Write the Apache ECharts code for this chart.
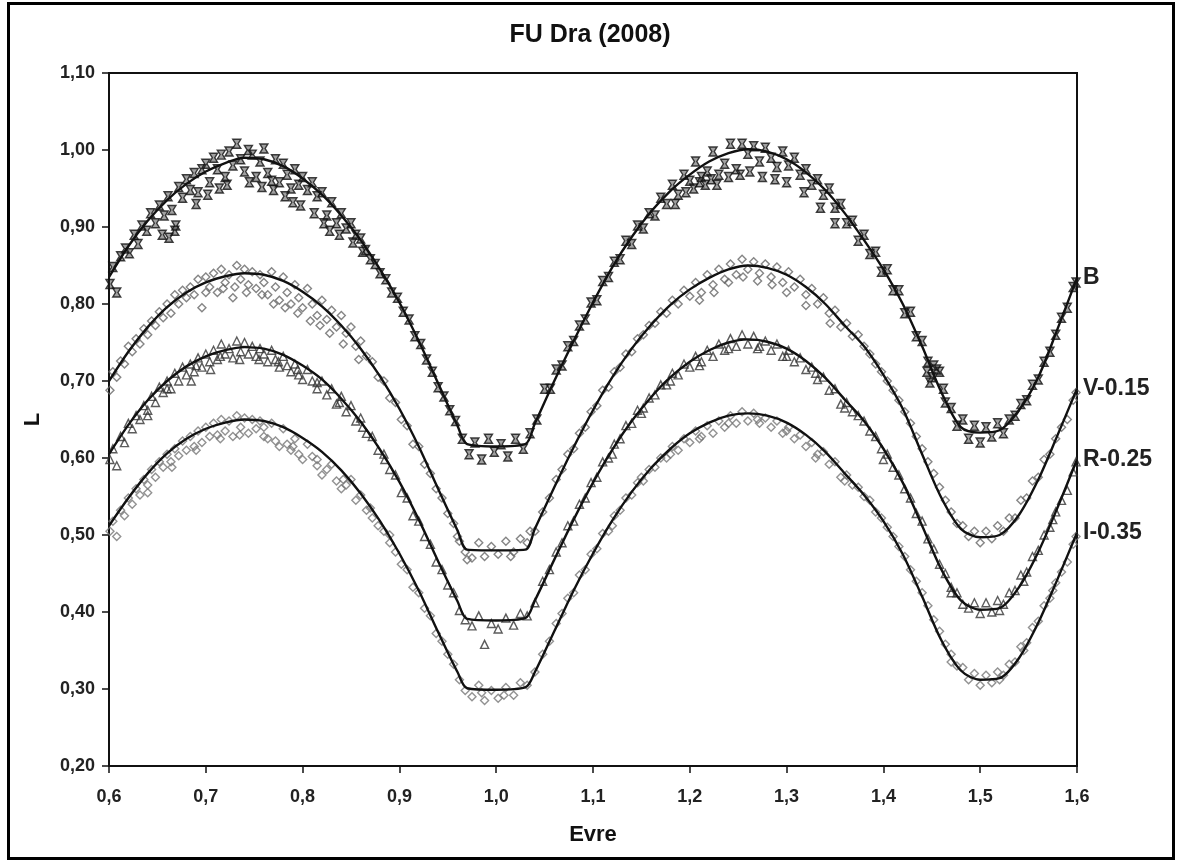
<!DOCTYPE html>
<html>
<head>
<meta charset="utf-8">
<script src="https://cdn.jsdelivr.net/npm/echarts@6/dist/echarts.min.js"></script>
<style>
	html, body { margin: 0; padding: 0; background: #fff; }
	#chart { width: 1180px; height: 862px; }
</style>
</head>
<body>
<div id="chart"></div>
<script>
// phase points of the fitted light curves
const phase = [0.60,0.62,0.64,0.66,0.68,0.70,0.72,0.74,0.76,0.78,0.80,0.82,0.84,0.86,0.88,0.90,0.92,0.94,0.96,
	0.97,1.00,1.03,1.04,
	1.06,1.08,1.10,1.12,1.14,1.16,1.18,1.20,1.22,1.24,1.26,1.28,1.30,1.32,1.34,1.36,1.38,1.40,1.42,1.44,1.46,1.48,1.50,1.52,1.54,1.56,1.58,1.60];

const bFit = [.835,.875,.908,.935,.956,.972,.983,.990,.988,.979,.963,.942,.915,.883,.845,.802,.752,.697,.642,
	.618,.615,.618,.645,
	.700,.752,.802,.848,.887,.920,.947,.968,.985,.996,1.001,.998,.988,.971,.948,.918,.883,.845,.800,.745,.685,.640,.633,.636,.662,.705,.768,.834];
const vFit = [.700,.738,.770,.796,.815,.828,.836,.840,.838,.830,.816,.797,.772,.742,.706,.664,.615,.560,.506,
	.481,.480,.481,.508,
	.562,.614,.662,.705,.742,.773,.799,.819,.834,.845,.850,.847,.838,.822,.800,.772,.745,.708,.664,.605,.548,.508,.497,.500,.526,.572,.630,.690];
const rFit = [.605,.643,.675,.700,.719,.732,.740,.744,.742,.734,.720,.702,.677,.647,.611,.569,.520,.466,.414,
	.391,.389,.392,.415,
	.468,.520,.568,.611,.648,.679,.705,.725,.740,.750,.754,.751,.742,.726,.704,.676,.648,.612,.568,.512,.455,.415,.403,.405,.432,.478,.536,.598];
const iFit = [.512,.548,.580,.606,.625,.638,.646,.650,.648,.640,.626,.608,.584,.554,.518,.476,.428,.374,.322,
	.301,.299,.302,.322,
	.375,.428,.476,.519,.556,.587,.612,.632,.646,.655,.658,.655,.646,.630,.608,.580,.552,.518,.475,.420,.363,.324,.312,.314,.340,.386,.443,.503];

// observations [phase, L]
const bObs = [[0.601,0.826],[0.604,0.848],[0.608,0.815],[0.612,0.862],[0.617,0.872],[0.621,0.866],[0.626,0.890],[0.630,0.878],[0.634,0.902],[0.639,0.895],[0.643,0.918],[0.648,0.905],[0.652,0.928],[0.657,0.915],[0.661,0.940],[0.665,0.922],[0.668,0.895],[0.672,0.952],[0.676,0.938],[0.680,0.962],[0.684,0.948],[0.688,0.970],[0.692,0.945],[0.696,0.975],[0.700,0.982],[0.704,0.958],[0.708,0.990],[0.712,0.975],[0.716,0.994],[0.720,0.965],[0.724,0.998],[0.728,0.980],[0.732,1.008],[0.736,0.988],[0.740,0.972],[0.744,1.000],[0.748,0.994],[0.752,0.965],[0.756,0.985],[0.760,1.002],[0.764,0.970],[0.768,0.960],[0.772,0.988],[0.776,0.958],[0.780,0.982],[0.784,0.968],[0.788,0.950],[0.792,0.975],[0.796,0.955],[0.800,0.965],[0.805,0.948],[0.810,0.958],[0.815,0.940],[0.820,0.945],[0.825,0.915],[0.830,0.932],[0.835,0.905],[0.840,0.918],[0.845,0.898],[0.850,0.905],[0.855,0.890],[0.860,0.885],[0.865,0.870],[0.870,0.858],[0.875,0.852],[0.880,0.840],[0.886,0.832],[0.892,0.815],[0.898,0.808],[0.904,0.790],[0.910,0.780],[0.916,0.758],[0.922,0.748],[0.928,0.728],[0.934,0.712],[0.940,0.692],[0.946,0.680],[0.952,0.662],[0.958,0.648],[0.965,0.625],[0.972,0.605],[0.978,0.620],[0.985,0.598],[0.992,0.625],[0.998,0.608],[1.005,0.618],[1.012,0.602],[1.020,0.625],[1.028,0.612],[1.035,0.632],[1.042,0.650],[1.050,0.690],[1.056,0.690],[1.062,0.715],[1.068,0.720],[1.074,0.745],[1.080,0.752],[1.086,0.772],[1.092,0.780],[1.098,0.802],[1.104,0.805],[1.110,0.830],[1.116,0.835],[1.122,0.855],[1.128,0.858],[1.134,0.882],[1.140,0.878],[1.146,0.902],[1.152,0.898],[1.158,0.918],[1.164,0.915],[1.170,0.938],[1.176,0.930],[1.182,0.955],[1.188,0.942],[1.194,0.968],[1.200,0.960],[1.206,0.985],[1.212,0.965],[1.218,0.972],[1.224,0.998],[1.230,0.968],[1.236,0.982],[1.242,1.008],[1.248,0.975],[1.254,1.008],[1.260,0.995],[1.266,1.005],[1.272,0.985],[1.278,1.003],[1.284,0.990],[1.290,0.978],[1.296,0.998],[1.302,0.980],[1.308,0.990],[1.314,0.968],[1.320,0.975],[1.326,0.955],[1.332,0.962],[1.338,0.942],[1.344,0.950],[1.350,0.925],[1.356,0.930],[1.362,0.905],[1.368,0.908],[1.374,0.882],[1.380,0.890],[1.386,0.865],[1.392,0.868],[1.398,0.842],[1.404,0.845],[1.410,0.818],[1.416,0.818],[1.422,0.788],[1.428,0.790],[1.434,0.758],[1.440,0.752],[1.446,0.725],[1.452,0.720],[1.458,0.712],[1.464,0.672],[1.470,0.665],[1.476,0.642],[1.482,0.650],[1.488,0.625],[1.494,0.642],[1.500,0.620],[1.506,0.640],[1.512,0.628],[1.518,0.645],[1.524,0.632],[1.530,0.650],[1.536,0.655],[1.542,0.670],[1.548,0.675],[1.554,0.695],[1.560,0.702],[1.566,0.725],[1.572,0.738],[1.578,0.760],[1.584,0.782],[1.590,0.795],[1.596,0.822],[1.599,0.828],
	[0.655,0.890],[0.662,0.886],[0.669,0.902],[0.690,0.930],[0.702,0.942],[0.714,0.950],[0.722,0.955],[0.745,0.958],[0.758,0.952],[0.770,0.948],[0.782,0.940],[0.790,0.932],[0.798,0.928],[0.812,0.918],[0.822,0.905],[0.828,0.895],[0.838,0.890],[0.852,0.880],[0.862,0.868],[1.185,0.930],[1.196,0.945],[1.204,0.950],[1.210,0.958],[1.216,0.955],[1.222,0.962],[1.228,0.955],[1.240,0.965],[1.252,0.968],[1.262,0.972],[1.275,0.965],[1.288,0.962],[1.300,0.958],[1.318,0.945],[1.335,0.925],[1.350,0.905],[1.445,0.712],[1.450,0.705],[1.455,0.715],[1.448,0.698],[1.462,0.690]];

const vObs = [[0.601,0.688],[0.604,0.712],[0.608,0.705],[0.612,0.726],[0.616,0.722],[0.620,0.745],[0.624,0.738],[0.628,0.755],[0.632,0.748],[0.636,0.768],[0.640,0.760],[0.644,0.778],[0.648,0.772],[0.652,0.790],[0.656,0.782],[0.660,0.800],[0.664,0.788],[0.668,0.812],[0.672,0.800],[0.676,0.818],[0.680,0.808],[0.684,0.822],[0.688,0.812],[0.692,0.832],[0.696,0.795],[0.700,0.835],[0.704,0.822],[0.708,0.840],[0.712,0.815],[0.716,0.845],[0.720,0.828],[0.724,0.838],[0.728,0.808],[0.732,0.850],[0.736,0.832],[0.740,0.845],[0.744,0.825],[0.748,0.842],[0.752,0.820],[0.756,0.838],[0.760,0.828],[0.764,0.812],[0.768,0.842],[0.772,0.822],[0.776,0.805],[0.780,0.835],[0.784,0.815],[0.788,0.800],[0.792,0.825],[0.796,0.808],[0.800,0.795],[0.805,0.820],[0.810,0.800],[0.815,0.785],[0.820,0.805],[0.825,0.780],[0.830,0.792],[0.835,0.770],[0.840,0.785],[0.845,0.762],[0.850,0.770],[0.855,0.745],[0.860,0.752],[0.866,0.732],[0.872,0.725],[0.878,0.705],[0.884,0.700],[0.890,0.678],[0.896,0.672],[0.902,0.650],[0.908,0.642],[0.914,0.618],[0.920,0.615],[0.926,0.592],[0.932,0.580],[0.938,0.560],[0.944,0.548],[0.950,0.528],[0.956,0.515],[0.962,0.492],[0.968,0.478],[0.975,0.470],[0.982,0.490],[0.988,0.472],[0.995,0.485],[1.002,0.475],[1.010,0.492],[1.018,0.478],[1.025,0.495],[1.032,0.490],[1.040,0.505],[1.048,0.530],[1.055,0.548],[1.062,0.572],[1.068,0.585],[1.074,0.605],[1.080,0.612],[1.086,0.632],[1.092,0.640],[1.098,0.660],[1.104,0.668],[1.110,0.688],[1.116,0.692],[1.122,0.712],[1.128,0.718],[1.134,0.735],[1.140,0.738],[1.146,0.755],[1.152,0.760],[1.158,0.772],[1.164,0.775],[1.170,0.790],[1.176,0.788],[1.182,0.805],[1.188,0.800],[1.194,0.818],[1.200,0.810],[1.206,0.828],[1.212,0.815],[1.218,0.838],[1.224,0.825],[1.230,0.845],[1.236,0.832],[1.242,0.852],[1.248,0.838],[1.254,0.858],[1.260,0.845],[1.266,0.855],[1.272,0.840],[1.278,0.852],[1.284,0.835],[1.290,0.848],[1.296,0.828],[1.302,0.842],[1.308,0.822],[1.314,0.832],[1.320,0.812],[1.326,0.820],[1.332,0.800],[1.338,0.808],[1.344,0.788],[1.350,0.792],[1.356,0.770],[1.362,0.775],[1.368,0.758],[1.374,0.760],[1.380,0.745],[1.386,0.735],[1.392,0.722],[1.398,0.712],[1.404,0.700],[1.410,0.688],[1.416,0.675],[1.422,0.660],[1.428,0.645],[1.434,0.628],[1.440,0.612],[1.446,0.595],[1.452,0.580],[1.458,0.562],[1.464,0.545],[1.470,0.530],[1.476,0.515],[1.482,0.512],[1.488,0.498],[1.494,0.505],[1.500,0.490],[1.506,0.505],[1.512,0.495],[1.518,0.512],[1.524,0.505],[1.530,0.522],[1.536,0.522],[1.542,0.545],[1.548,0.548],[1.554,0.570],[1.560,0.575],[1.566,0.598],[1.572,0.605],[1.578,0.625],[1.584,0.640],[1.590,0.650],[1.596,0.675],[1.599,0.685],
	[0.700,0.815],[0.718,0.820],[0.730,0.822],[0.742,0.815],[0.758,0.812],[0.770,0.800],[0.782,0.795],[0.795,0.788],[0.808,0.778],[0.818,0.772],[0.828,0.762],[0.842,0.748],[0.858,0.728],[1.210,0.805],[1.225,0.815],[1.240,0.828],[1.255,0.835],[1.270,0.830],[1.285,0.825],[1.300,0.815],[1.320,0.798],[1.345,0.775],[0.960,0.498],[0.970,0.468],[1.015,0.472],[1.035,0.505]];

const rObs = [[0.601,0.598],[0.604,0.612],[0.608,0.590],[0.612,0.628],[0.616,0.620],[0.620,0.645],[0.624,0.638],[0.628,0.655],[0.632,0.650],[0.636,0.668],[0.640,0.662],[0.644,0.680],[0.648,0.672],[0.652,0.692],[0.656,0.685],[0.660,0.700],[0.664,0.690],[0.668,0.710],[0.672,0.700],[0.676,0.718],[0.680,0.708],[0.684,0.722],[0.688,0.712],[0.692,0.730],[0.696,0.718],[0.700,0.735],[0.704,0.725],[0.708,0.740],[0.712,0.728],[0.716,0.748],[0.720,0.735],[0.724,0.742],[0.728,0.730],[0.732,0.752],[0.736,0.738],[0.740,0.750],[0.744,0.735],[0.748,0.745],[0.752,0.732],[0.756,0.742],[0.760,0.735],[0.764,0.725],[0.768,0.740],[0.772,0.728],[0.776,0.718],[0.780,0.732],[0.784,0.720],[0.788,0.712],[0.792,0.722],[0.796,0.708],[0.800,0.702],[0.805,0.715],[0.810,0.700],[0.815,0.690],[0.820,0.700],[0.825,0.682],[0.830,0.690],[0.835,0.670],[0.840,0.680],[0.845,0.660],[0.850,0.668],[0.855,0.648],[0.860,0.652],[0.866,0.632],[0.872,0.628],[0.878,0.610],[0.884,0.605],[0.890,0.585],[0.896,0.578],[0.902,0.555],[0.908,0.548],[0.914,0.525],[0.920,0.518],[0.926,0.498],[0.932,0.488],[0.938,0.465],[0.944,0.455],[0.950,0.435],[0.956,0.425],[0.962,0.402],[0.968,0.390],[0.975,0.382],[0.982,0.395],[0.988,0.358],[0.995,0.385],[1.002,0.378],[1.010,0.392],[1.018,0.383],[1.025,0.398],[1.032,0.395],[1.040,0.412],[1.048,0.440],[1.055,0.455],[1.062,0.478],[1.068,0.490],[1.074,0.512],[1.080,0.518],[1.086,0.540],[1.092,0.548],[1.098,0.568],[1.104,0.575],[1.110,0.595],[1.116,0.600],[1.122,0.618],[1.128,0.625],[1.134,0.642],[1.140,0.645],[1.146,0.662],[1.152,0.665],[1.158,0.678],[1.164,0.682],[1.170,0.695],[1.176,0.695],[1.182,0.710],[1.188,0.708],[1.194,0.722],[1.200,0.718],[1.206,0.732],[1.212,0.725],[1.218,0.740],[1.224,0.732],[1.230,0.748],[1.236,0.740],[1.242,0.755],[1.248,0.745],[1.254,0.760],[1.260,0.748],[1.266,0.758],[1.272,0.745],[1.278,0.752],[1.284,0.740],[1.290,0.748],[1.296,0.732],[1.302,0.740],[1.308,0.725],[1.314,0.730],[1.320,0.715],[1.326,0.718],[1.332,0.702],[1.338,0.705],[1.344,0.688],[1.350,0.690],[1.356,0.670],[1.362,0.672],[1.368,0.660],[1.374,0.655],[1.380,0.648],[1.386,0.635],[1.392,0.628],[1.398,0.612],[1.404,0.605],[1.410,0.588],[1.416,0.578],[1.422,0.560],[1.428,0.548],[1.434,0.528],[1.440,0.518],[1.446,0.495],[1.452,0.482],[1.458,0.462],[1.464,0.450],[1.470,0.432],[1.476,0.425],[1.482,0.410],[1.488,0.405],[1.494,0.412],[1.500,0.398],[1.506,0.412],[1.512,0.400],[1.518,0.415],[1.524,0.410],[1.530,0.425],[1.536,0.428],[1.542,0.448],[1.548,0.452],[1.554,0.472],[1.560,0.480],[1.566,0.500],[1.572,0.510],[1.578,0.530],[1.584,0.545],[1.590,0.558],[1.596,0.582],[1.599,0.595],
	[0.640,0.655],[0.660,0.690],[0.690,0.720],[0.715,0.732],[0.735,0.728],[0.755,0.728],[0.775,0.725],[0.795,0.715],[0.815,0.698],[0.838,0.672],[0.862,0.640],[0.885,0.598],[1.120,0.605],[1.150,0.658],[1.180,0.700],[1.210,0.720],[1.240,0.742],[1.270,0.742],[1.300,0.732],[1.330,0.710],[1.360,0.665],[1.400,0.598],[1.470,0.425],[1.520,0.402],[1.545,0.440],[1.575,0.520],[0.685,0.700],[0.705,0.715]];

const iObs = [[0.601,0.505],[0.604,0.518],[0.608,0.498],[0.612,0.532],[0.616,0.525],[0.620,0.548],[0.624,0.540],[0.628,0.560],[0.632,0.552],[0.636,0.572],[0.640,0.565],[0.644,0.585],[0.648,0.575],[0.652,0.595],[0.656,0.588],[0.660,0.605],[0.664,0.595],[0.668,0.612],[0.672,0.603],[0.676,0.622],[0.680,0.610],[0.684,0.628],[0.688,0.615],[0.692,0.635],[0.696,0.620],[0.700,0.640],[0.704,0.628],[0.708,0.645],[0.712,0.630],[0.716,0.650],[0.720,0.635],[0.724,0.648],[0.728,0.628],[0.732,0.655],[0.736,0.640],[0.740,0.652],[0.744,0.632],[0.748,0.650],[0.752,0.638],[0.756,0.648],[0.760,0.628],[0.764,0.625],[0.768,0.645],[0.772,0.622],[0.776,0.615],[0.780,0.638],[0.784,0.618],[0.788,0.610],[0.792,0.625],[0.796,0.605],[0.800,0.598],[0.805,0.618],[0.810,0.602],[0.815,0.590],[0.820,0.578],[0.825,0.585],[0.830,0.592],[0.835,0.570],[0.840,0.560],[0.845,0.565],[0.850,0.572],[0.855,0.545],[0.860,0.552],[0.866,0.532],[0.872,0.522],[0.878,0.512],[0.884,0.505],[0.890,0.490],[0.896,0.478],[0.902,0.462],[0.908,0.455],[0.914,0.432],[0.920,0.425],[0.926,0.405],[0.932,0.395],[0.938,0.372],[0.944,0.362],[0.950,0.345],[0.956,0.332],[0.962,0.312],[0.968,0.298],[0.975,0.290],[0.982,0.305],[0.988,0.285],[0.995,0.298],[1.002,0.288],[1.010,0.302],[1.018,0.292],[1.025,0.308],[1.032,0.305],[1.040,0.322],[1.048,0.345],[1.055,0.362],[1.062,0.385],[1.068,0.398],[1.074,0.418],[1.080,0.425],[1.086,0.448],[1.092,0.455],[1.098,0.475],[1.104,0.482],[1.110,0.502],[1.116,0.505],[1.122,0.525],[1.128,0.532],[1.134,0.548],[1.140,0.552],[1.146,0.568],[1.152,0.570],[1.158,0.585],[1.164,0.588],[1.170,0.600],[1.176,0.600],[1.182,0.615],[1.188,0.610],[1.194,0.625],[1.200,0.620],[1.206,0.635],[1.212,0.628],[1.218,0.642],[1.224,0.632],[1.230,0.648],[1.236,0.640],[1.242,0.655],[1.248,0.645],[1.254,0.660],[1.260,0.648],[1.266,0.658],[1.272,0.645],[1.278,0.652],[1.284,0.640],[1.290,0.648],[1.296,0.632],[1.302,0.640],[1.308,0.625],[1.314,0.630],[1.320,0.615],[1.326,0.620],[1.332,0.605],[1.338,0.608],[1.344,0.592],[1.350,0.595],[1.356,0.575],[1.362,0.578],[1.368,0.565],[1.374,0.562],[1.380,0.550],[1.386,0.545],[1.392,0.530],[1.398,0.522],[1.404,0.510],[1.410,0.498],[1.416,0.485],[1.422,0.472],[1.428,0.455],[1.434,0.440],[1.440,0.425],[1.446,0.408],[1.452,0.390],[1.458,0.375],[1.464,0.358],[1.470,0.345],[1.476,0.330],[1.482,0.328],[1.488,0.312],[1.494,0.320],[1.500,0.305],[1.506,0.318],[1.512,0.308],[1.518,0.322],[1.524,0.318],[1.530,0.332],[1.536,0.335],[1.542,0.355],[1.548,0.360],[1.554,0.380],[1.560,0.388],[1.566,0.408],[1.572,0.418],[1.578,0.438],[1.584,0.452],[1.590,0.465],[1.596,0.488],[1.599,0.498],
	[0.640,0.555],[0.665,0.588],[0.690,0.610],[0.715,0.625],[0.735,0.630],[0.760,0.640],[0.790,0.615],[0.815,0.598],[0.842,0.572],[0.870,0.535],[0.890,0.500],[1.120,0.512],[1.150,0.575],[1.180,0.605],[1.210,0.625],[1.240,0.645],[1.270,0.650],[1.300,0.635],[1.330,0.600],[1.360,0.570],[1.470,0.335],[1.520,0.312],[1.545,0.350],[1.575,0.428],[0.985,0.295],[1.008,0.292]];

const bandNames = ['B', 'V-0.15', 'R-0.25', 'I-0.35'];

const FONT = '"Liberation Sans", Arial, sans-serif';
const HOURGLASS = 'path://M0,0 L10,0 L6.5,5 L10,10 L0,10 L3.5,5 Z';

function fitLine(name, values) {
	let data = [];
	for (let i = 0; i < phase.length; i++) {
		data.push([phase[i], values[i]]);
	}
	return {
		type: 'line',
		name: name,
		data: data,
		symbol: 'none',
		smooth: 0.3,
		z: 5,
		lineStyle: { color: '#111', width: 2.4 },
		endLabel: {
			show: true,
			formatter: name,
			distance: 6,
			color: '#222',
			fontFamily: FONT,
			fontWeight: 'bold',
			fontSize: 23
		}
	};
}

function obsPoints(data, symbol, size, fill, border) {
	return {
		type: 'scatter',
		data: data,
		symbol: symbol,
		symbolSize: size,
		z: 3,
		itemStyle: {
			color: fill,
			borderColor: border,
			borderWidth: 1.4
		}
	};
}

const comma = (digits) => (v) => v.toFixed(digits).replace('.', ',');

const myChart = echarts.init(document.getElementById('chart'));
const option = {
	animation: false,
	backgroundColor: '#fff',
	title: {
		text: 'FU Dra (2008)',
		left: 'center',
		top: 18,
		textStyle: { fontFamily: FONT, fontSize: 25, fontWeight: 'bold', color: '#111' }
	},
	grid: {
		left: 109,
		right: 103,
		top: 73,
		bottom: 96,
		show: true,
		borderColor: '#111',
		borderWidth: 2
	},
	xAxis: {
		type: 'value',
		min: 0.6,
		max: 1.6,
		interval: 0.1,
		name: 'Evre',
		nameLocation: 'middle',
		nameGap: 58,
		nameTextStyle: { fontFamily: FONT, fontSize: 22, fontWeight: 'bold', color: '#111' },
		axisLine: { lineStyle: { color: '#111', width: 2 } },
		axisTick: { inside: false, length: 7, lineStyle: { color: '#111', width: 1.5 } },
		axisLabel: { formatter: comma(1), margin: 22, fontFamily: FONT, fontSize: 18, fontWeight: 'bold', color: '#222' },
		splitLine: { show: false }
	},
	yAxis: {
		type: 'value',
		min: 0.2,
		max: 1.1,
		interval: 0.1,
		name: 'L',
		nameLocation: 'middle',
		nameGap: 65,
		nameRotate: 90,
		nameTextStyle: { fontFamily: FONT, fontSize: 22, fontWeight: 'bold', color: '#111' },
		axisLine: { lineStyle: { color: '#111', width: 2 } },
		axisTick: { inside: false, length: 7, lineStyle: { color: '#111', width: 1.5 } },
		axisLabel: { formatter: comma(2), margin: 14, fontFamily: FONT, fontSize: 18, fontWeight: 'bold', color: '#222' },
		splitLine: { show: false }
	},
	graphic: [{
		type: 'rect',
		shape: { x: 8.5, y: 3.5, width: 1165, height: 855 },
		style: { fill: 'none', stroke: '#000', lineWidth: 3 },
		silent: true
	}],
	series: [
		obsPoints(bObs, HOURGLASS, [8, 9], 'rgba(40,40,40,0.55)', '#111'),
		obsPoints(vObs, 'diamond', 8, 'rgba(255,255,255,0)', '#666'),
		obsPoints(rObs, 'triangle', 8, 'rgba(255,255,255,0)', '#333'),
		obsPoints(iObs, 'diamond', 8, 'rgba(255,255,255,0)', '#777'),
		fitLine(bandNames[0], bFit),
		fitLine(bandNames[1], vFit),
		fitLine(bandNames[2], rFit),
		fitLine(bandNames[3], iFit)
	]
};
myChart.setOption(option);
</script>
</body>
</html>
